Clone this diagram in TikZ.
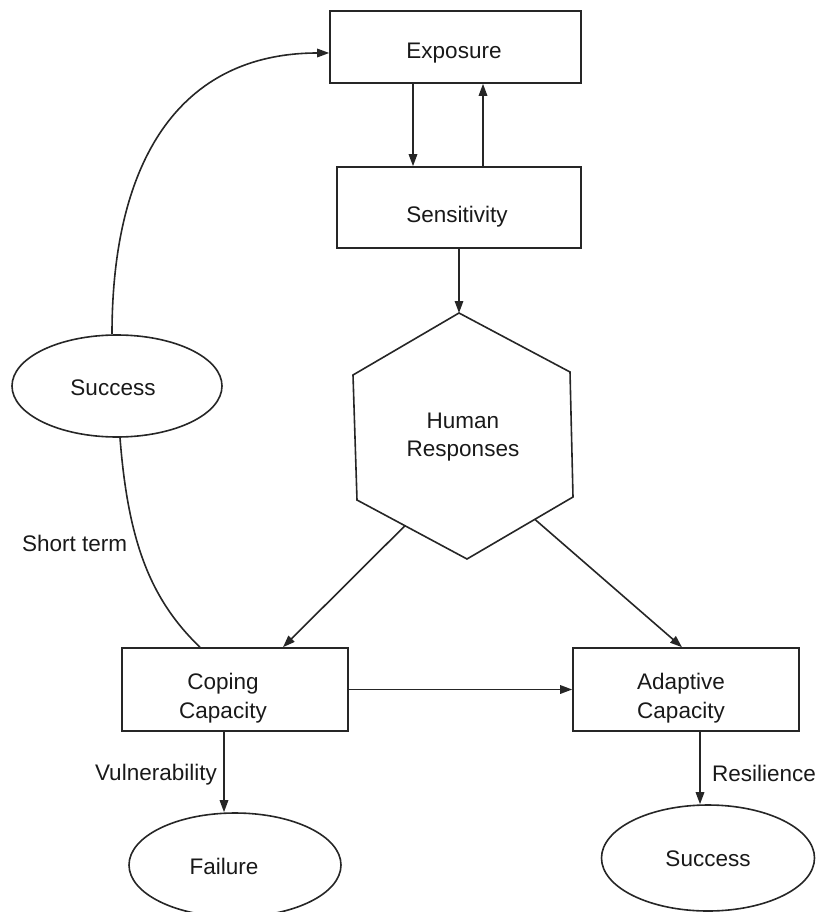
\documentclass[tikz,border=0pt]{standalone}
\usepackage{fontspec}
\setmainfont{Liberation Sans}
\usetikzlibrary{arrows.meta,shapes.geometric,calc}

\tikzset{
  every node/.style={font=\fontsize{22.5}{28.5}\selectfont, text=black!90},
  line/.style={line width=1.6pt, draw=black!85},
  arr/.style={line, -{Triangle[length=12pt,width=8.5pt]}},
  boxnode/.style={line, rectangle, inner sep=0pt},
  ovalnode/.style={line, ellipse, inner sep=0pt},
  txt/.style={align=center, inner sep=0pt},
  lbl/.style={inner sep=0pt}
}

\begin{document}
\begin{tikzpicture}[x=1pt, y=-1pt]
  \useasboundingbox (0,0) rectangle (817,912);
  \clip (0,0) rectangle (817,912);

  % boxes, with their captions set a little below centre
  \node[boxnode, minimum width=251pt, minimum height=72pt] (exp) at (455.5,47) {};
  \node[txt] (expt) at (454,53) {Exposure};
  \node[boxnode, minimum width=244pt, minimum height=81pt] (sen) at (459,207.5) {};
  \node[txt] (sent) at (457,217) {Sensitivity};
  \node[boxnode, minimum width=226pt, minimum height=83pt] (cc) at (235,689.5) {};
  \node[txt] (cct) at (223,698) {Coping\\Capacity};
  \node[boxnode, minimum width=226pt, minimum height=83pt] (ac) at (686,689.5) {};
  \node[txt] (act) at (681,698) {Adaptive\\Capacity};

  % ovals
  \node[ovalnode, minimum width=210pt, minimum height=102pt] (s1) at (117,386) {};
  \node[txt] (s1t) at (113,388) {Success};
  \node[ovalnode, minimum width=212pt, minimum height=104pt] (fail) at (235,865) {};
  \node[txt] (failt) at (224,866) {Failure};
  \node[ovalnode, minimum width=213pt, minimum height=106pt] (s2) at (708,858) {};
  \node[txt] (s2t) at (708,859) {Success};

  % hexagon of human responses
  \coordinate (htop) at (459,313);
  \coordinate (hur) at (570,372);
  \coordinate (hlr) at (573,497);
  \coordinate (hbot) at (467,559);
  \coordinate (hll) at (357,500);
  \coordinate (hul) at (353,375);
  \draw[line, line join=miter] (htop) -- (hur) -- (hlr) -- (hbot) -- (hll) -- (hul) -- cycle;
  \node[txt] (hr) at (463,437) {Human\\Responses};
  \coordinate (hout1) at ($(hll)!0.436!(hbot)$);
  \coordinate (hout2) at ($(hbot)!0.64!(hlr)$);

  % exposure <-> sensitivity
  \coordinate (ed) at ([xshift=-42.5pt]exp.south);
  \coordinate (eu) at ([xshift=27.5pt]exp.south);
  \draw[arr] (ed) -- (ed |- sen.north);
  \draw[arr] (eu |- sen.north) -- (eu);

  % sensitivity -> human responses
  \draw[arr] (sen.south) -- (htop);

  % human responses -> capacities
  \draw[arr] (hout1) -- ([xshift=48pt]cc.north);
  \draw[arr] (hout2) -- ([xshift=-4pt]ac.north);

  % coping -> adaptive
  \draw[arr] (cc.east) -- (ac.west);

  % outcomes
  \coordinate (vs) at ([xshift=-11pt]cc.south);
  \draw[arr] (vs) -- (vs |- fail.north);
  \coordinate (rs) at ([xshift=14pt]ac.south);
  \draw[arr] (rs) -- (rs |- s2.north);
  \node[lbl, anchor=east] (vul) at (217,775) {Vulnerability};
  \node[lbl, anchor=west] (res) at (712,773) {Resilience};

  % short-term success loop
  \draw[line] ([xshift=3pt]s1.south) .. controls +(8,103) and +(-50,-48) .. ([xshift=-35pt]cc.north);
  \draw[arr] ([xshift=-5pt]s1.north) .. controls +(0,-173) and +(-150,0) .. ([yshift=-6pt]exp.west);
  \node[lbl, anchor=west] (st) at (22,543) {Short term};
\end{tikzpicture}
\end{document}
